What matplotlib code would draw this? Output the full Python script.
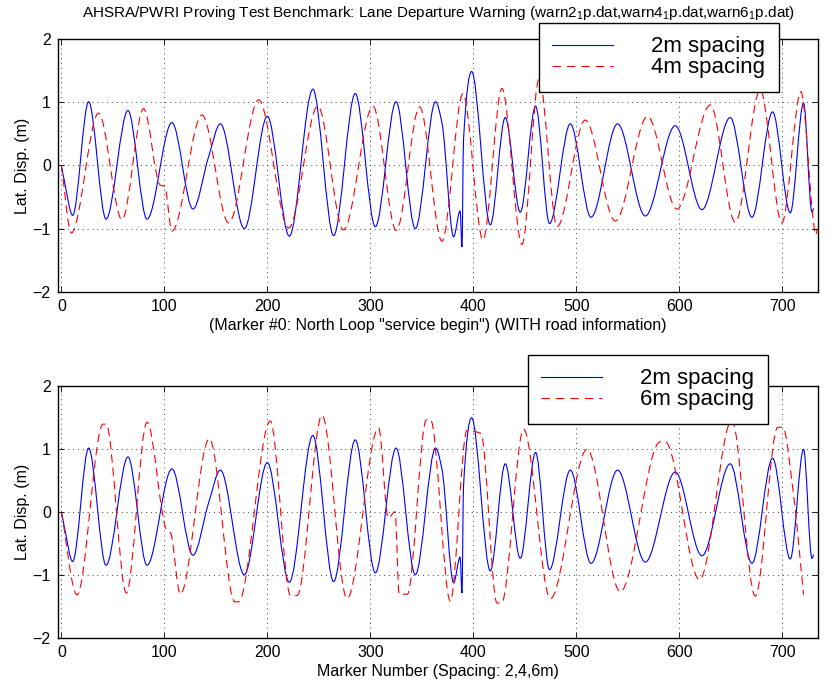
import matplotlib
matplotlib.use('Agg')
import matplotlib.pyplot as plt
import numpy as np
from matplotlib.path import Path
from matplotlib.patches import PathPatch
from matplotlib.lines import Line2D

plt.rcParams['font.family'] = ['Liberation Sans', 'DejaVu Sans']
plt.rcParams['mathtext.fontset'] = 'custom'
plt.rcParams['mathtext.rm'] = 'Liberation Sans'
plt.rcParams['mathtext.it'] = 'Liberation Sans'

# peaks / troughs (marker number, lateral displacement in m)
x_2m = [0, 3, 11, 26.5, 43.4, 64.7, 83.2, 107.4, 127.8, 143, 154.4, 177.7, 200,
        221.4, 244.2, 264.4, 285.4, 304.9, 325, 343.7, 363.4, 369.5, 380.9, 387.2,
        389, 390.5, 398.4, 416.5, 431, 445.6, 460.5, 474, 494.2, 514.3, 540.1, 567,
        596.1, 622, 649.5, 670.6, 690.6, 707.8, 720.7, 728.8, 730.5]
y_2m = [0, -0.25, -0.79, 1.01, -0.85, 0.87, -0.85, 0.68, -0.69, 0.14, 0.66, -1.0, 0.78,
        -1.12, 1.21, -1.11, 1.14, -0.97, 1.01, -1.0, 1.01, 0.68, -1.13, -0.72,
        -1.29, 0.4, 1.49, -0.94, 0.76, -0.74, 0.94, -0.92, 0.66, -0.82, 0.66, -0.8,
        0.63, -0.7, 0.76, -0.82, 0.85, -0.75, 0.99, -0.74, -0.68]

x_4m = [0, 9.7, 36.2, 58.9, 79.9, 96, 100.3, 107.4, 136.6, 162.5, 191.6, 220.7, 249,
        274, 302.6, 325.2, 347.9, 369.6, 390, 409.4, 427.8, 447.3, 464, 481.3, 508.7,
        537.9, 569.2, 597.7, 630.1, 654.4, 678.6, 699.7, 718.1, 731, 732.5, 734]
y_4m = [0, -1.07, 0.83, -0.86, 0.9, -0.31, -0.33, -1.04, 0.8, -0.91, 1.04, -0.99, 0.94,
        -1.02, 0.94, -1.03, 0.93, -1.2, 1.14, -1.18, 1.22, -1.25, 1.38, -0.97, 0.72,
        -0.88, 0.78, -0.69, 0.96, -0.9, 1.2, -0.91, 1.17, -0.98, -1.1, -1.0]

x_6m = [0, 15.2, 40.5, 43.5, 63.1, 83.2, 102.6, 105.8, 115.5, 143.7, 168.5, 172, 202.9,
        222.5, 229, 253.1, 277.4, 308.1, 317.5, 324, 328, 336, 354.5, 358.5, 377.7,
        393.9, 407.5, 423, 427.5, 448.8, 474.8, 510.4, 542.7, 581.5, 586.4, 619.7,
        651.1, 673.8, 695.6, 700.5, 711, 720.7]
y_6m = [0, -1.32, 1.39, 1.39, -1.29, 1.42, -0.3, -0.33, -1.31, 1.16, -1.43, -1.43, 1.44,
        -1.33, -1.33, 1.53, -1.38, 1.33, -0.1, 0.0, -1.31, -1.31, 1.46, 1.46, -1.42,
        1.29, 1.24, -1.45, -1.45, 1.31, -1.38, 0.99, -1.27, 1.11, 1.11, -1.08,
        1.45, -1.34, 1.34, 1.34, 0.26, -1.32]

title = ('AHSRA/PWRI Proving Test Benchmark: Lane Departure Warning '
         '(warn2$_1$p.dat,warn4$_1$p.dat,warn6$_1$p.dat)')
xlabel_top = '(Marker #0: North Loop "service begin") (WITH road information)'
xlabel_bot = 'Marker Number (Spacing: 2,4,6m)'
ylabel = 'Lat. Disp. (m)'


def curve(x, y):
    # smooth path through the read points (monotone cubic segments)
    x = np.asarray(x, float)
    y = np.asarray(y, float)
    h = np.diff(x)
    d = np.diff(y) / h
    m = np.zeros_like(y)
    m[0] = d[0]
    m[-1] = d[-1]
    for i in range(1, len(x) - 1):
        if d[i - 1] * d[i] > 0:
            w1 = 2 * h[i] + h[i - 1]
            w2 = h[i] + 2 * h[i - 1]
            m[i] = (w1 + w2) / (w1 / d[i - 1] + w2 / d[i])
    verts = [(x[0], y[0])]
    codes = [Path.MOVETO]
    for i in range(len(x) - 1):
        verts += [(x[i] + h[i] / 3, y[i] + m[i] * h[i] / 3),
                  (x[i + 1] - h[i] / 3, y[i + 1] - m[i + 1] * h[i] / 3),
                  (x[i + 1], y[i + 1])]
        codes += [Path.CURVE4] * 3
    return Path(verts, codes)


def setup(ax, xlabel):
    ax.set_xlim(-3.5, 735)
    ax.set_ylim(-2, 2)
    ax.set_xticks(np.arange(0, 701, 100))
    ax.set_yticks([-2, -1, 0, 1, 2])
    ax.tick_params(direction='in', top=True, right=True, length=4.5, width=0.6,
                   labelsize=11.5, pad=5)
    ax.grid(True, color='0.25', linestyle=(0, (1, 4)), linewidth=0.7)
    for s in ax.spines.values():
        s.set_linewidth(1.0)
    ax.set_xlabel(xlabel, fontsize=11.5, labelpad=3)
    ax.set_ylabel(ylabel, fontsize=11.5, labelpad=2)


fig = plt.figure(figsize=(8.38, 6.88), dpi=100)
ax1 = fig.add_axes([0.0689, 0.576, 0.9076, 0.3669])
ax2 = fig.add_axes([0.0689, 0.0731, 0.9076, 0.3663])

blue = '#0000ff'
red = '#ff0000'

for ax, xr, yr, lab2, xl, anchor in [
        (ax1, x_4m, y_4m, '4m spacing', xlabel_top, (539 / 838, 1 - 23 / 688)),
        (ax2, x_6m, y_6m, '6m spacing', xlabel_bot, (528 / 838, 1 - 355 / 688))]:
    setup(ax, xl)
    ax.add_patch(PathPatch(curve(x_2m, y_2m), fill=False, edgecolor=blue, lw=0.8))
    ax.add_patch(PathPatch(curve(xr, yr), fill=False, edgecolor=red, lw=0.8,
                           linestyle=(0, (7.5, 4.5))))
    handles = [Line2D([], [], color=blue, lw=0.8),
               Line2D([], [], color=red, lw=0.8, linestyle=(0, (7.5, 5.5)))]
    leg = ax.legend(handles, ['2m spacing', lab2], loc='upper left',
                    bbox_to_anchor=anchor, bbox_transform=fig.transFigure,
                    borderaxespad=0, fontsize=16, handlelength=2.75,
                    handletextpad=1.7, labelspacing=0.0, borderpad=0.6,
                    fancybox=False, framealpha=1, edgecolor='black')
    leg.get_frame().set_linewidth(1.0)

fig.text(0.5227, 1 - 13 / 688, title, ha='center', va='center', fontsize=11)

fig.savefig('out.png', dpi=100)
